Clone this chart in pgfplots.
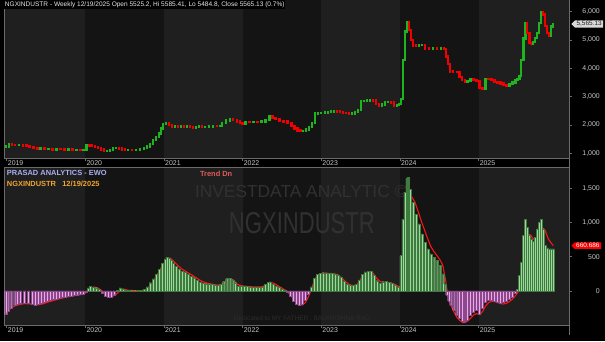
\documentclass[border=0pt]{standalone}
\usepackage{fontspec}
\setmainfont{Liberation Sans}
\usepackage{graphicx}
\usepackage{pgfplots}
\usepackage{pgfplotstable}
\pgfplotsset{compat=1.18}
\usetikzlibrary{shapes.symbols}

\definecolor{bandA}{HTML}{1F1F1F}
\definecolor{bandB}{HTML}{141414}
\definecolor{gridc}{HTML}{303030}
\definecolor{axc}{HTML}{6A6A6A}
\definecolor{upg}{HTML}{1DB41D}
\definecolor{dnr}{HTML}{F00000}
\definecolor{ewog}{HTML}{9CD89C}
\definecolor{ewogd}{HTML}{3F7A3F}
\definecolor{ewop}{HTML}{EFA6EF}
\definecolor{ewopd}{HTML}{8A4A8A}
\definecolor{lab}{HTML}{C8C8C8}
\definecolor{wm}{HTML}{313131}

% candles: x = years since 2019, body from lo to hi
\pgfplotstableread{
x lo hi
-0.013 1220 1235
0.025 1235 1330
0.152 1285 1290
0.430 1160 1175
0.532 1140 1150
0.633 1130 1145
0.785 1125 1130
0.886 1115 1120
0.975 1110 1125
1.013 1125 1280
1.278 1080 1090
1.316 1090 1110
1.354 1110 1175
1.392 1175 1180
1.544 1120 1125
1.646 1120 1125
1.696 1125 1140
1.747 1140 1175
1.785 1175 1240
1.823 1240 1320
1.861 1320 1470
1.899 1470 1580
1.937 1580 1700
1.962 1700 1880
1.987 1880 2040
2.025 2040 2080
2.139 1950 1955
2.215 1940 1960
2.291 1930 1950
2.405 1900 1935
2.443 1935 1945
2.519 1925 1940
2.570 1940 1950
2.620 1950 1960
2.709 1955 1965
2.734 1965 2080
2.785 2080 2160
2.835 2160 2190
3.038 2050 2110
3.139 2100 2110
3.241 2105 2120
3.291 2120 2170
3.342 2170 2300
3.772 1780 1790
3.810 1790 1840
3.848 1840 1930
3.886 1930 2080
3.924 2080 2400
3.962 2400 2420
4.000 2420 2430
4.051 2430 2440
4.089 2440 2450
4.127 2450 2470
4.165 2470 2500
4.392 2390 2400
4.430 2400 2460
4.468 2460 2520
4.506 2520 2840
4.544 2840 2850
4.582 2850 2860
4.620 2860 2870
4.772 2680 2720
4.810 2720 2800
4.848 2800 2820
4.962 2690 2700
4.987 2700 2730
5.013 2730 2920
5.038 2920 4300
5.063 4300 5300
5.089 5300 5620
5.241 4790 4810
5.278 4810 4830
5.418 4690 4695
5.519 4690 4700
5.861 3520 3540
5.899 3540 3600
6.089 3290 3620
6.392 3390 3440
6.430 3440 3500
6.468 3500 3580
6.494 3580 3620
6.519 3620 3720
6.544 3720 4300
6.570 4300 5050
6.595 5050 5600
6.696 4880 4930
6.722 4930 5060
6.747 5060 5250
6.772 5250 5600
6.797 5600 5990
6.924 5150 5480
6.949 5480 5565
}\uptab

\pgfplotstableread{
x lo hi
0.063 1300 1330
0.101 1285 1300
0.203 1270 1290
0.253 1260 1270
0.291 1215 1260
0.342 1180 1215
0.392 1160 1180
0.481 1140 1175
0.582 1130 1150
0.684 1140 1145
0.734 1125 1140
0.835 1115 1130
0.937 1110 1120
1.051 1270 1280
1.089 1245 1270
1.127 1215 1245
1.165 1190 1215
1.203 1130 1190
1.241 1080 1130
1.430 1165 1180
1.468 1130 1165
1.506 1120 1130
1.595 1120 1125
2.063 2010 2080
2.101 1950 2010
2.177 1940 1955
2.253 1930 1960
2.329 1920 1950
2.367 1900 1920
2.481 1925 1945
2.671 1955 1960
2.873 2170 2190
2.924 2120 2170
2.962 2060 2120
3.000 2050 2060
3.089 2100 2110
3.190 2105 2110
3.380 2250 2300
3.418 2200 2250
3.468 2150 2200
3.519 2120 2150
3.570 2070 2120
3.620 1960 2070
3.658 1870 1960
3.696 1800 1870
3.734 1780 1800
4.203 2470 2500
4.241 2450 2470
4.278 2430 2450
4.316 2420 2430
4.354 2390 2420
4.658 2860 2870
4.696 2740 2860
4.734 2680 2740
4.886 2790 2820
4.924 2690 2790
5.114 5350 5620
5.139 5000 5350
5.165 4800 5000
5.203 4790 4800
5.316 4700 4830
5.367 4690 4700
5.468 4690 4695
5.557 4680 4700
5.582 4420 4680
5.608 4150 4420
5.633 3890 4150
5.671 3880 3890
5.722 3875 3880
5.759 3700 3875
5.785 3590 3700
5.823 3520 3590
5.937 3580 3600
5.975 3560 3580
6.013 3300 3560
6.051 3290 3300
6.127 3610 3620
6.165 3590 3610
6.203 3520 3590
6.241 3500 3520
6.278 3460 3500
6.316 3400 3460
6.354 3390 3400
6.620 5250 5600
6.646 4900 5250
6.671 4880 4900
6.823 5900 5990
6.848 5500 5900
6.873 5250 5500
6.899 5150 5250
}\dntab

\pgfplotstableread{
x v
-0.013 -345
0.013 -300
0.051 -247
0.101 -209
0.139 -195
0.177 -185
0.228 -175
0.278 -185
0.329 -199
0.367 -209
0.405 -195
0.443 -175
0.481 -160
0.519 -150
0.557 -135
0.595 -125
0.633 -115
0.671 -102
0.709 -95
0.747 -87
0.785 -80
0.823 -73
0.861 -62
0.899 -54
0.937 -48
0.975 -44
1.013 -15
1.038 44
1.063 67
1.101 58
1.139 48
1.177 20
1.215 -25
1.253 -73
1.291 -87
1.329 -85
1.367 -55
1.405 10
1.443 44
1.481 30
1.519 12
1.557 8
1.595 4
1.633 4
1.671 5
1.709 8
1.747 25
1.785 60
1.823 120
1.861 175
1.899 240
1.937 320
1.975 400
2.013 465
2.038 494
2.063 480
2.089 450
2.114 411
2.152 363
2.190 324
2.228 291
2.266 270
2.304 245
2.342 215
2.380 193
2.418 160
2.456 130
2.494 112
2.532 106
2.570 102
2.608 96
2.646 88
2.684 81
2.722 95
2.759 140
2.797 180
2.835 189
2.873 165
2.911 120
2.949 73
2.987 73
3.025 70
3.063 65
3.101 60
3.139 57
3.177 55
3.215 56
3.253 60
3.291 96
3.329 125
3.354 131
3.392 100
3.430 75
3.468 50
3.506 28
3.544 5
3.570 -20
3.608 -80
3.646 -150
3.684 -195
3.722 -209
3.759 -190
3.797 -130
3.835 -50
3.873 60
3.911 180
3.949 240
3.987 262
4.025 266
4.063 265
4.101 262
4.139 258
4.177 250
4.215 235
4.253 195
4.291 140
4.329 100
4.367 80
4.405 78
4.443 100
4.481 160
4.519 240
4.557 280
4.595 290
4.633 285
4.671 230
4.709 150
4.747 110
4.785 135
4.823 140
4.861 130
4.899 110
4.937 90
4.975 58
5.013 517
5.038 1050
5.063 1440
5.089 1640
5.101 1656
5.127 1486
5.165 1293
5.203 1123
5.241 978
5.278 833
5.316 712
5.354 615
5.392 542
5.430 494
5.468 445
5.506 372
5.544 251
5.570 100
5.595 -60
5.620 -150
5.646 -209
5.684 -282
5.722 -354
5.759 -402
5.797 -441
5.823 -460
5.861 -426
5.899 -354
5.937 -305
5.975 -282
6.013 -344
6.051 -257
6.089 -160
6.127 -136
6.165 -136
6.203 -151
6.241 -160
6.278 -175
6.316 -160
6.354 -151
6.392 -122
6.430 -87
6.468 -39
6.494 20
6.519 227
6.544 421
6.570 808
6.595 1050
6.620 929
6.646 808
6.671 760
6.696 721
6.722 785
6.747 905
6.772 1002
6.797 1050
6.823 905
6.848 663
6.873 630
6.899 615
6.924 615
6.949 615
}\ewotab

\pgfplotstableread{
x s
-0.025 -345
0.025 -280
0.076 -230
0.152 -200
0.228 -185
0.304 -190
0.380 -205
0.456 -190
0.532 -160
0.608 -135
0.684 -110
0.759 -90
0.835 -75
0.911 -60
0.987 -45
1.025 0
1.063 40
1.114 55
1.165 40
1.203 10
1.241 -40
1.291 -75
1.342 -80
1.380 -60
1.418 -20
1.456 25
1.494 25
1.544 10
1.620 5
1.722 5
1.785 30
1.848 110
1.911 230
1.975 360
2.038 460
2.076 480
2.127 430
2.177 370
2.228 320
2.291 275
2.354 235
2.418 185
2.481 140
2.544 115
2.608 100
2.671 85
2.734 95
2.797 150
2.835 175
2.886 150
2.937 95
2.987 75
3.063 65
3.139 58
3.241 58
3.291 80
3.342 125
3.392 115
3.443 80
3.494 45
3.532 20
3.570 -10
3.608 -60
3.646 -120
3.684 -170
3.722 -200
3.759 -205
3.797 -170
3.835 -90
3.873 20
3.911 150
3.949 230
4.025 262
4.127 255
4.203 240
4.253 200
4.304 140
4.354 95
4.405 78
4.456 95
4.506 180
4.557 260
4.608 285
4.658 260
4.709 180
4.759 130
4.823 130
4.886 120
4.937 95
4.975 70
5.013 60
5.051 300
5.089 900
5.127 1300
5.152 1370
5.190 1300
5.241 1130
5.278 1000
5.316 880
5.354 760
5.392 650
5.430 580
5.468 520
5.506 460
5.544 380
5.582 150
5.608 -60
5.646 -200
5.684 -300
5.722 -380
5.759 -430
5.797 -460
5.823 -462
5.861 -440
5.899 -400
5.937 -350
5.975 -330
6.013 -345
6.051 -300
6.089 -220
6.127 -170
6.165 -150
6.203 -155
6.241 -170
6.278 -185
6.316 -190
6.354 -180
6.392 -155
6.430 -120
6.468 -70
6.506 -10
6.544 250
6.582 620
6.620 830
6.658 820
6.696 760
6.734 740
6.772 830
6.810 930
6.848 880
6.886 760
6.924 700
6.949 661
}\sigtab

\pgfplotsset{
  panel/.style={
    set layers, scale only axis, width=567bp,
    xmin=-0.025, xmax=7.152,
    axis line style={draw=axc, line width=0.8bp},
    xtick={0,1,2,3,4,5,6},
    xticklabels={2019,2020,2021,2022,2023,2024,2025},
    xtick pos=bottom,
    xticklabel style={anchor=north west, inner sep=0pt, xshift=1bp, yshift=0.5bp,
      font=\fontsize{7}{8}\selectfont, text=lab},
    ytick pos=right, yticklabel pos=right,
    ymajorgrids, grid style={draw=gridc, line width=0.6bp},
    tick align=outside, major tick length=3bp,
    tick style={draw=axc, line width=0.6bp},
    yticklabel style={anchor=east, inner sep=0pt, xshift=28bp,
      font=\fontsize{7}{8}\selectfont, text=lab},
    scaled y ticks=false,
    /pgf/number format/1000 sep={,},
    /pgf/number format/assume math mode=true,
  }
}

\begin{document}
\pagecolor{black}
\begin{tikzpicture}
% ---------- price panel ----------
\begin{axis}[panel, at={(2bp,184bp)}, anchor=south west, height=159bp,
  ymin=824, ymax=6411, ytick={1000,2000,3000,4000,5000,6000}]
\fill[bandA, on layer=axis background] (axis cs:-0.025,824) rectangle (axis cs:1,6411);
\fill[bandB, on layer=axis background] (axis cs:1,824) rectangle (axis cs:2,6411);
\fill[bandA, on layer=axis background] (axis cs:2,824) rectangle (axis cs:3,6411);
\fill[bandB, on layer=axis background] (axis cs:3,824) rectangle (axis cs:4,6411);
\fill[bandA, on layer=axis background] (axis cs:4,824) rectangle (axis cs:5,6411);
\fill[bandB, on layer=axis background] (axis cs:5,824) rectangle (axis cs:6,6411);
\fill[bandA, on layer=axis background] (axis cs:6,824) rectangle (axis cs:7.152,6411);
\addplot[draw=upg, line width=2.3bp, line cap=rect, -,
  quiver={u=0, v=\thisrow{hi}-\thisrow{lo}}] table[x=x, y=lo] {\uptab};
\addplot[draw=dnr, line width=2.3bp, line cap=rect, -,
  quiver={u=0, v=\thisrow{hi}-\thisrow{lo}}] table[x=x, y=lo] {\dntab};
\end{axis}

% ---------- EWO panel ----------
\begin{axis}[panel, at={(2bp,16.3bp)}, anchor=south west, height=158.4bp,
  ymin=-500, ymax=1802, ytick={0,500,1000,1500}]
\fill[bandA, on layer=axis background] (axis cs:-0.025,-500) rectangle (axis cs:1,1802);
\fill[bandB, on layer=axis background] (axis cs:1,-500) rectangle (axis cs:2,1802);
\fill[bandA, on layer=axis background] (axis cs:2,-500) rectangle (axis cs:3,1802);
\fill[bandB, on layer=axis background] (axis cs:3,-500) rectangle (axis cs:4,1802);
\fill[bandA, on layer=axis background] (axis cs:4,-500) rectangle (axis cs:5,1802);
\fill[bandB, on layer=axis background] (axis cs:5,-500) rectangle (axis cs:6,1802);
\fill[bandA, on layer=axis background] (axis cs:6,-500) rectangle (axis cs:7.152,1802);
\node[on layer=axis background, anchor=base west, inner sep=0pt, text=wm, font=\fontsize{17.5}{18}\selectfont]
  at (axis cs:2.392,1370) {INVESTDATA ANALYTIC ©};
\node[on layer=axis background, anchor=base west, inner sep=0pt, text=wm]
  at (axis cs:2.823,833) {\scalebox{0.73}[1]{\fontsize{30.5}{31}\selectfont NGXINDUSTR}};
\node[on layer=axis background, anchor=base west, inner sep=0pt, text={rgb,255:red,44;green,44;blue,44}, font=\fontsize{6.5}{7}\selectfont]
  at (axis cs:2.886,-432) {Dedicated to MY FATHER : BALKRISHNA RAO};
\addplot[draw={rgb,255:red,255;green,20;blue,20}, line width=1.1bp, mark=none] table[x=x, y=s] {\sigtab};
\addplot[ybar, bar width=2bp, bar shift=0pt, fill=ewog, draw=ewogd, line width=0.3bp,
  restrict y to domain=0:3000] table[x=x, y=v] {\ewotab};
\addplot[ybar, bar width=2bp, bar shift=0pt, fill=ewop, draw=ewopd, line width=0.3bp,
  restrict y to domain=-3000:0] table[x=x, y=v] {\ewotab};
\end{axis}

% right border continuing between/below panels
\draw[axc, line width=0.8bp] (569bp,343bp) -- (569bp,6bp);

% title
\fill[black] (0,334bp) rectangle (284bp,343bp);
\node[anchor=base west, inner sep=0pt, text={rgb,255:red,232;green,232;blue,232},
  font=\fontsize{6.6}{7}\selectfont] at (2bp,336.2bp)
  {NGXINDUSTR - Weekly 12/19/2025 Open 5525.2, Hi 5585.41, Lo 5484.8, Close 5565.13 (0.7\%)};

% indicator captions
\node[anchor=base west, inner sep=0pt, text={rgb,255:red,170;green,176;blue,240},
  font=\fontsize{7.5}{8}\bfseries] at (4bp,167bp) {PRASAD ANALYTICS - EWO};
\node[anchor=base west, inner sep=0pt, text={rgb,255:red,240;green,165;blue,50},
  font=\fontsize{7.5}{8}\bfseries] at (4bp,156bp) {NGXINDUSTR\ \ \ 12/19/2025};
\node[anchor=base west, inner sep=0pt, text={rgb,255:red,228;green,90;blue,90},
  font=\fontsize{7.5}{8}\bfseries] at (198bp,166bp) {Trend Dn};

% last value tags
\node[signal, signal to=west, anchor=west, fill={rgb,255:red,216;green,216;blue,216},
  text={rgb,255:red,34;green,34;blue,34}, inner xsep=1.5bp, inner ysep=1bp,
  font=\fontsize{6.5}{7}\selectfont] at (571bp,318.9bp) {5,565.13};
\node[signal, signal to=west, anchor=west, fill={rgb,255:red,255;green,0;blue,0},
  text=white, inner xsep=1.5bp, inner ysep=1bp,
  font=\fontsize{6.5}{7}\selectfont] at (571bp,96.2bp) {660.686};

\pgfresetboundingbox
\useasboundingbox (0,0) rectangle (605bp,343bp);
\end{tikzpicture}
\end{document}
